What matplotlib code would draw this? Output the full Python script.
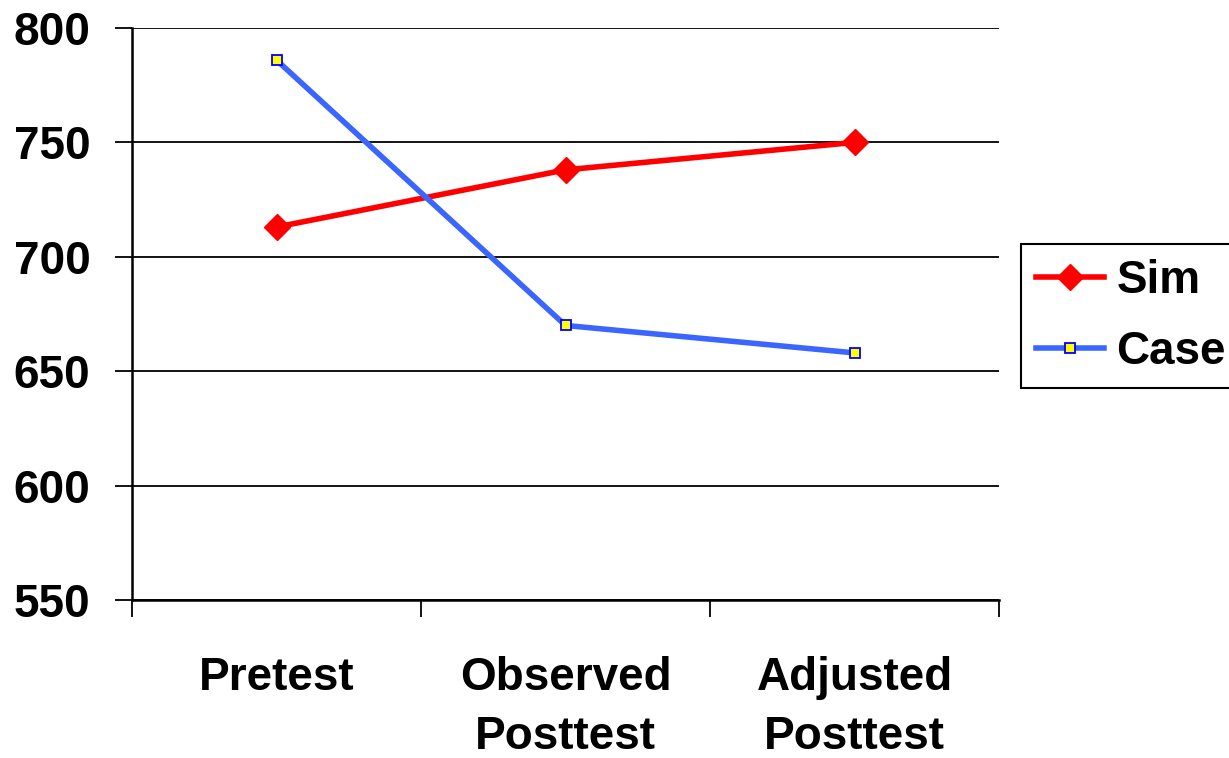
import matplotlib
matplotlib.use("Agg")
import matplotlib.pyplot as plt
from matplotlib.ticker import FixedLocator

plt.rcParams['font.family'] = ['Liberation Sans', 'DejaVu Sans']
plt.rcParams['font.weight'] = 'bold'

categories = ["Pretest", "Observed\nPosttest", "Adjusted\nPosttest"]
sim_values = [713, 738, 750]
case_values = [786, 670, 658]
y_ticks = [550, 600, 650, 700, 750, 800]

FS = 33

fig = plt.figure(figsize=(12.29, 7.58), dpi=100)
ax = fig.add_axes([132 / 1229, 1 - 600 / 758, 867 / 1229, 572 / 758])

x = list(range(len(categories)))
ax.plot(x, sim_values, color='#ff0000', lw=4, marker='D', markersize=13,
        markerfacecolor='#ff0000', markeredgecolor='#ff0000', label='Sim', zorder=3)
ax.plot(x, case_values, color='#3a66ff', lw=4, marker='s', markersize=7,
        markerfacecolor='#ffff00', markeredgecolor='#0000ff', markeredgewidth=1.3,
        label='Case', zorder=3)

ax.set_xlim(-0.5, len(categories) - 0.5)
ax.set_ylim(550, 800)
ax.set_yticks(y_ticks)
ax.yaxis.grid(True, color='black', lw=1.3)
ax.set_axisbelow(True)

# category boundaries carry the tick marks, labels sit at the centres
ax.xaxis.set_major_locator(FixedLocator([-0.5, 0.5, 1.5, 2.5]))
ax.set_xticklabels([])
ax.xaxis.set_minor_locator(FixedLocator(x))
ax.set_xticklabels(categories, minor=True, linespacing=1.46)
ax.tick_params(axis='x', which='major', length=12, width=1.3, color='black')
ax.tick_params(axis='x', which='minor', length=0, pad=40, labelsize=FS)
ax.tick_params(axis='y', length=12, width=1.3, pad=18, labelsize=FS)
for lbl in ax.get_xticklabels(minor=True) + ax.get_yticklabels():
    lbl.set_fontweight('bold')

for side in ('top', 'right'):
    ax.spines[side].set_visible(False)
for side in ('left', 'bottom'):
    ax.spines[side].set_linewidth(1.8)
    ax.spines[side].set_color('black')

leg = fig.legend(loc='upper left', bbox_to_anchor=(1021 / 1229, 1 - 244 / 758),
                 bbox_transform=fig.transFigure, borderaxespad=0,
                 prop={'weight': 'bold', 'size': FS}, handlelength=1.5,
                 handletextpad=0.26, labelspacing=0.59, borderpad=0.32,
                 fancybox=False, framealpha=1, edgecolor='black')
leg.get_frame().set_linewidth(1.5)

fig.savefig('out.png', dpi=100)
